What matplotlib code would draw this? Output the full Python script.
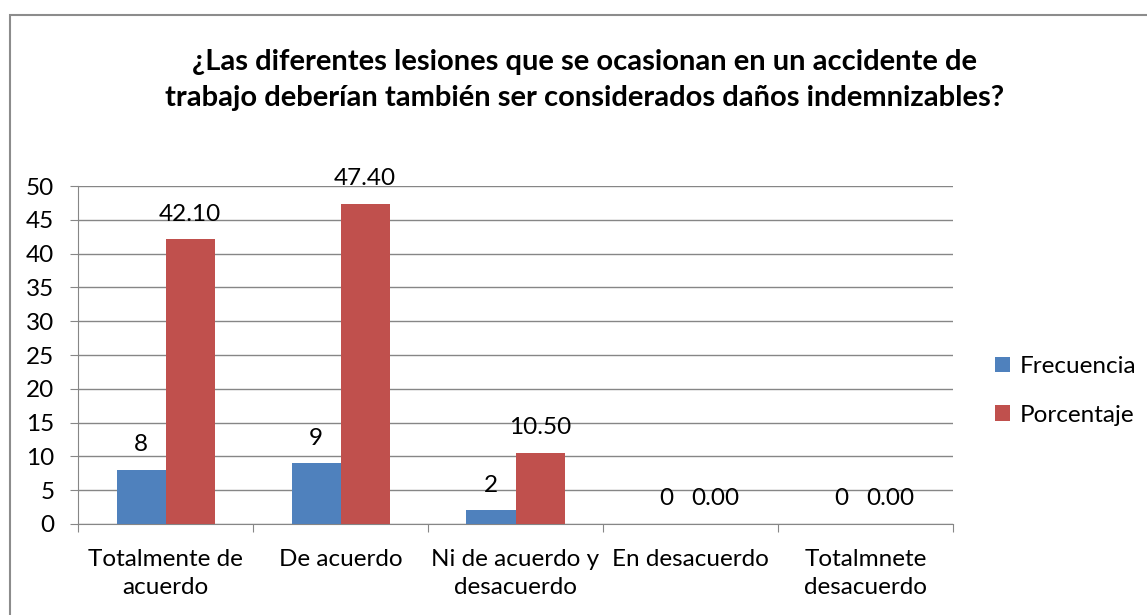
import matplotlib
matplotlib.use("Agg")
import matplotlib.pyplot as plt
import numpy as np
from matplotlib.patches import Rectangle

categories = ["Totalmente de\nacuerdo", "De acuerdo", "Ni de acuerdo y\ndesacuerdo",
              "En desacuerdo", "Totalmnete\ndesacuerdo"]
frecuencia = [8, 9, 2, 0, 0]
porcentaje = [42.10, 47.40, 10.50, 0.00, 0.00]
title = "¿Las diferentes lesiones que se ocasionan en un accidente de\ntrabajo deberían también ser considerados daños indemnizables?"

plt.rcParams['font.family'] = ['Lato', 'DejaVu Sans']
FS = 17.5

fig = plt.figure(figsize=(11.47, 6.15), dpi=100)
fig.patch.set_facecolor('white')

# outer chart frame
fig.patches.append(Rectangle((10/1147, -0.1), 1.2, 1 - 15/615 + 0.1,
                             transform=fig.transFigure, fill=False,
                             edgecolor='#8c8c8c', linewidth=1.5))

ax = fig.add_axes([78/1147, 1 - 524/615, (953 - 78)/1147, (524 - 186)/615])
x = np.arange(len(categories))
w = 0.28
blue = '#4f81bd'
red = '#c0504d'
b1 = ax.bar(x - w/2, frecuencia, w, color=blue, label='Frecuencia', zorder=3)
b2 = ax.bar(x + w/2, porcentaje, w, color=red, label='Porcentaje', zorder=3)

for rect, v in zip(b1, frecuencia):
    ax.annotate(f"{v:d}", (rect.get_x() + rect.get_width()/2, v),
                xytext=(0, 10.5), textcoords='offset points',
                ha='center', va='bottom', fontsize=FS)
for rect, v in zip(b2, porcentaje):
    ax.annotate(f"{v:.2f}", (rect.get_x() + rect.get_width()/2, v),
                xytext=(0, 10.5), textcoords='offset points',
                ha='center', va='bottom', fontsize=FS)

ax.set_xlim(-0.5, len(categories) - 0.5)
ax.set_ylim(0, 50)
ax.set_yticks(np.arange(0, 51, 5))
ax.set_xticks(np.arange(-0.5, len(categories), 1.0))
ax.set_xticklabels([])
ax.set_xticks(x, minor=True)
ax.set_xticklabels(categories, minor=True, fontsize=FS, linespacing=1.42)
ax.tick_params(axis='x', which='minor', length=0, pad=18)
ax.tick_params(axis='x', which='major', length=6, color='#868686')
ax.tick_params(axis='y', length=6, color='#868686', labelsize=FS, pad=11)

ax.grid(axis='y', color='#868686', linewidth=1, zorder=0)
for s in ['top', 'right']:
    ax.spines[s].set_visible(False)
for s in ['left', 'bottom']:
    ax.spines[s].set_color('#868686')

fig.text(585/1147, 1 - 80/615, title, ha='center', va='center',
         fontsize=21, fontweight='bold', linespacing=1.5)

ax.legend(loc='center left', bbox_to_anchor=(995/1147, 1 - 391/615),
          bbox_transform=fig.transFigure, frameon=False,
          fontsize=FS, handlelength=0.6, handleheight=0.6, handletextpad=0.4,
          labelspacing=1.13, borderpad=0, borderaxespad=0)

fig.savefig("out.png", dpi=100)
